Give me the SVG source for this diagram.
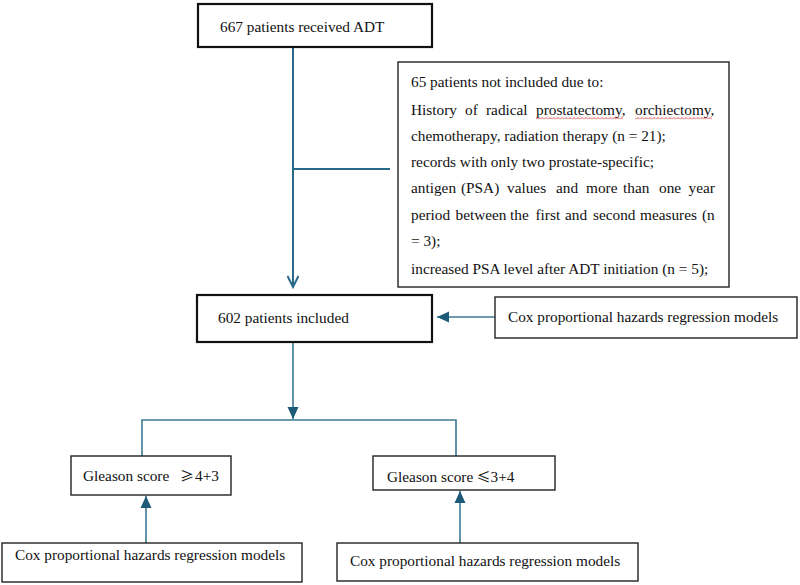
<svg xmlns="http://www.w3.org/2000/svg" width="800" height="585" viewBox="0 0 800 585" font-family="'Liberation Serif', 'DejaVu Serif', serif">
<style>
  text { font-family: 'Liberation Serif', 'DejaVu Serif', serif; font-size: 15.3px; fill: #111; }
  .box { fill: #fff; stroke: #222; stroke-width: 1.4; }
  .bold { fill: #fff; stroke: #111; stroke-width: 2.2; }
  .conn { fill: none; stroke: #3d7893; stroke-width: 1.6; }
  .connDark { fill: none; stroke: #2a6888; stroke-width: 2; }
  .sym { font-family: 'Noto Sans CJK SC', 'DejaVu Sans', sans-serif; font-size: 14px; }
</style>
<defs>
  <marker id="open" markerWidth="14" markerHeight="12" refX="12" refY="6" orient="auto" markerUnits="userSpaceOnUse">
    <path d="M1,0.5 L12,6 L1,11.5" fill="none" stroke="#2a6888" stroke-width="2"/>
  </marker>
  <marker id="tri" markerWidth="14" markerHeight="12" refX="12" refY="6" orient="auto" markerUnits="userSpaceOnUse">
    <path d="M0,0.5 L12,6 L0,11.5 Z" fill="#1d5a78"/>
  </marker>
  <pattern id="squig" width="4" height="3" patternUnits="userSpaceOnUse">
    <path d="M0,2.5 L2,0.5 L4,2.5" fill="none" stroke="#d42020" stroke-width="0.8"/>
  </pattern>
</defs>

<g id="connectors">
  <line class="connDark" x1="293" y1="47" x2="293" y2="287" marker-end="url(#open)"/>
  <line class="connDark" x1="293" y1="169" x2="390" y2="169"/>
  <line class="conn" x1="495" y1="317" x2="437" y2="317" marker-end="url(#tri)"/>
  <line class="conn" x1="293" y1="342" x2="293" y2="419" marker-end="url(#tri)"/>
  <polyline class="conn" points="142,456 142,420 456,420 456,456"/>
  <line class="conn" x1="146" y1="543" x2="146" y2="496" marker-end="url(#tri)"/>
  <line class="conn" x1="460" y1="543" x2="460" y2="491" marker-end="url(#tri)"/>
</g>

<g id="n-received">
  <rect class="bold" x="198" y="4" width="234" height="43"/>
  <text x="220" y="31.5">667 patients received ADT</text>
</g>

<g id="n-excluded">
  <rect class="box" x="398" y="62" width="331" height="225"/>
  <text x="411" y="86.5">65 patients not included due to:</text>
  <text y="114.5"><tspan x="411">History</tspan><tspan x="465">of</tspan><tspan x="486">radical</tspan><tspan x="536">prostatectomy,</tspan><tspan x="635">orchiectomy,</tspan></text>
  <rect x="536" y="116.5" width="87" height="3" fill="url(#squig)"/>
  <rect x="635" y="116.5" width="77" height="3" fill="url(#squig)"/>
  <text x="411" y="141">chemotherapy, radiation therapy (n = 21);</text>
  <text x="411" y="167">records with only two prostate-specific;</text>
  <text y="193"><tspan x="411">antigen</tspan><tspan x="461">(PSA)</tspan><tspan x="507">values</tspan><tspan x="556">and</tspan><tspan x="586">more</tspan><tspan x="623">than</tspan><tspan x="659">one</tspan><tspan x="688.5">year</tspan></text>
  <text y="219.5"><tspan x="411">period</tspan><tspan x="455.5">between</tspan><tspan x="510">the</tspan><tspan x="535.5">first</tspan><tspan x="565">and</tspan><tspan x="593">second</tspan><tspan x="640">measures</tspan><tspan x="702">(n</tspan></text>
  <text x="411" y="246">= 3);</text>
  <text x="411" y="273.5">increased PSA level after ADT initiation (n = 5);</text>
</g>

<g id="n-included">
  <rect class="bold" x="197" y="295" width="235" height="47"/>
  <text x="218" y="323">602 patients included</text>
</g>

<g id="n-cox-main">
  <rect class="box" x="495" y="297" width="302" height="41"/>
  <text x="508" y="321.5">Cox proportional hazards regression models</text>
</g>

<g id="n-gleason-high">
  <rect class="box" x="71" y="456" width="160" height="39"/>
  <text y="481"><tspan x="83">Gleason score</tspan><tspan class="sym" x="180">≥</tspan><tspan x="195">4+3</tspan></text>
</g>

<g id="n-gleason-low">
  <rect class="box" x="373" y="456" width="182" height="34"/>
  <text y="481.5"><tspan x="387">Gleason score</tspan><tspan class="sym" x="476.5">≤</tspan><tspan x="490.5">3+4</tspan></text>
</g>

<g id="n-cox-left">
  <rect class="box" x="2" y="543" width="300" height="39"/>
  <text x="15" y="560">Cox proportional hazards regression models</text>
</g>

<g id="n-cox-right">
  <rect class="box" x="337" y="543" width="301" height="38"/>
  <text x="350" y="566">Cox proportional hazards regression models</text>
</g>
</svg>
